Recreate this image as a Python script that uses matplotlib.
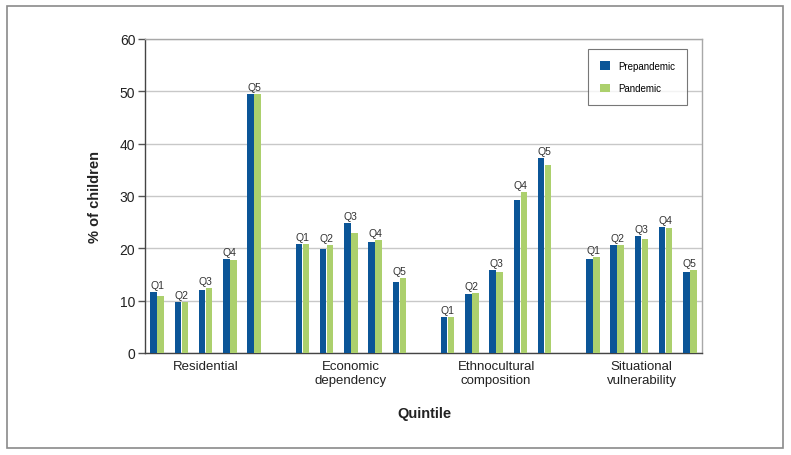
import matplotlib
matplotlib.use("Agg")
import matplotlib.pyplot as plt
from matplotlib.patches import Rectangle, Patch
import numpy as np

groups = ["Residential", "Economic\ndependency", "Ethnocultural\ncomposition", "Situational\nvulnerability"]
quintiles = ["Q1", "Q2", "Q3", "Q4", "Q5"]
prepandemic = [
    [11.6, 9.7, 12.0, 17.9, 49.4],
    [20.9, 19.9, 24.8, 21.2, 13.6],
    [6.9, 11.3, 15.8, 29.3, 37.2],
    [18.0, 20.6, 22.4, 24.1, 15.5],
]
pandemic = [
    [10.95, 9.8, 12.4, 17.7, 49.5],
    [20.8, 20.7, 23.0, 21.65, 14.3],
    [6.9, 11.5, 15.4, 30.8, 36.0],
    [18.4, 20.6, 21.8, 23.8, 15.8],
]
series_names = ["Prepandemic", "Pandemic"]
colors = ["#0b5597", "#acd06d"]

plt.rcParams['font.family'] = ['Liberation Sans', 'DejaVu Sans']

W, H = 791, 456
fig = plt.figure(figsize=(W / 100, H / 100), dpi=100)
ax = fig.add_axes([145 / W, 1 - 354 / H, (702 - 145) / W, (354 - 40) / H])

fig.patches.append(Rectangle((7 / W, 1 - 449 / H), (783 - 7) / W, (449 - 7) / H,
                             transform=fig.transFigure, fill=False,
                             edgecolor="#8a8a8a", linewidth=1.2))

bw = 0.27
off = 0.145
for g in range(len(groups)):
    for q in range(len(quintiles)):
        x = g * 6 + q
        b = prepandemic[g][q]
        p = pandemic[g][q]
        ax.bar(x - off, b, width=bw, color=colors[0], edgecolor="none", zorder=3)
        ax.bar(x + off, p, width=bw, color=colors[1], edgecolor="none", zorder=3)
        ax.text(x, max(b, p) + 0.35, quintiles[q], ha="center", va="bottom",
                fontsize=7.5, color="#333333", zorder=4)
    ax.text(g * 6 + 2, -1.3, groups[g], ha="center", va="top", fontsize=9.5,
            color="#222222", linespacing=1.25)

ax.set_xlim(-0.5, 22.5)
ax.set_ylim(0, 60)
ax.set_yticks(range(0, 61, 10))
ax.set_xticks([])
ax.yaxis.grid(True, color="#c8c8c8", linewidth=1.0, zorder=0)
ax.set_axisbelow(True)
ax.tick_params(axis="y", direction="out", length=5, width=1, color="#555555",
               labelsize=10, labelcolor="#222222", pad=2)
for side in ["left", "bottom"]:
    ax.spines[side].set_color("#444444")
    ax.spines[side].set_linewidth(1.0)
for side in ["top", "right"]:
    ax.spines[side].set_color("#a8a8a8")
    ax.spines[side].set_linewidth(1.0)

fig.text(95 / W, 1 - 197 / H, "% of children", ha="center", va="center", rotation=90,
         fontsize=10.5, fontweight="bold", color="#222222")
fig.text(424 / W, 1 - 414 / H, "Quintile", ha="center", va="center",
         fontsize=10.5, fontweight="bold", color="#222222")

handles = [Patch(facecolor=colors[0], edgecolor="none"),
           Patch(facecolor=colors[1], edgecolor="none")]
leg = ax.legend(handles, series_names, loc="upper right",
                bbox_to_anchor=((687 - 145) / (702 - 145), (354 - 50) / (354 - 40)),
                fontsize=7, frameon=True, fancybox=False, edgecolor="#555555",
                handlelength=1.0, handleheight=1.0, handletextpad=0.9,
                borderpad=1.2, labelspacing=1.3, borderaxespad=0)
leg.get_frame().set_linewidth(0.8)

fig.savefig("out.png", dpi=100)
